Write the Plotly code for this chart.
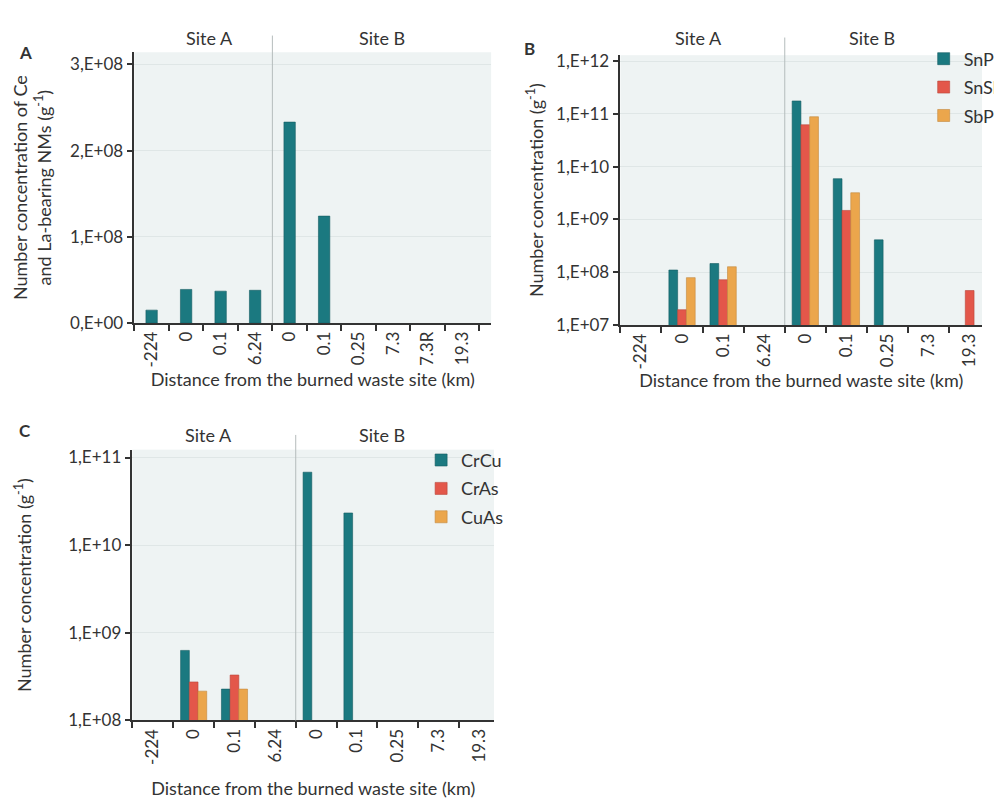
import plotly.graph_objects as go

# ---------------- data ----------------
labels_a = ["-224", "0", "0.1", "6.24", "0", "0.1", "0.25", "7.3", "7.3R", "19.3"]
ce_la = [1.5e7, 3.9e7, 3.7e7, 3.8e7, 2.33e8, 1.24e8, None, None, None, None]

labels_b = ["-224", "0", "0.1", "6.24", "0", "0.1", "0.25", "7.3", "19.3"]
snpb = [None, 1.1e8, 1.46e8, None, 1.75e11, 5.9e9, 4.1e8, None, None]
snsb = [None, 1.95e7, 7.2e7, None, 6.2e10, 1.48e9, None, None, 4.5e7]
sbpb = [None, 7.9e7, 1.27e8, None, 8.8e10, 3.2e9, None, None, None]

labels_c = ["-224", "0", "0.1", "6.24", "0", "0.1", "0.25", "7.3", "19.3"]
crcu = [None, 6.3e8, 2.28e8, None, 6.8e10, 2.33e10, None, None, None]
cras = [None, 2.75e8, 3.3e8, None, None, None, None, None, None]
cuas = [None, 2.16e8, 2.28e8, None, None, None, None, None, None]

ticks_a = [0, 1e8, 2e8, 3e8]
ticktext_a = ["0,E+00", "1,E+08", "2,E+08", "3,E+08"]
ticks_b = [1e7, 1e8, 1e9, 1e10, 1e11, 1e12]
ticktext_b = ["1,E+07", "1,E+08", "1,E+09", "1,E+10", "1,E+11", "1,E+12"]
ticks_c = [1e8, 1e9, 1e10, 1e11]
ticktext_c = ["1,E+08", "1,E+09", "1,E+10", "1,E+11"]

TEAL = "#1b7980"
RED = "#e3574a"
ORANGE = "#eba64c"
BG = "#eef3f3"
GRID = "#dfe6e6"
INK = "#333333"
FONT = "Lato"

W, H = 1002, 799
def fx(p):
    return p / W
def fy(p):
    return 1 - p / H

fig = go.Figure()

xa = list(range(len(labels_a)))
xb = list(range(len(labels_b)))
xc = list(range(len(labels_c)))

fig.add_trace(go.Bar(x=xa, y=ce_la, marker=dict(color=TEAL, line=dict(color="#145c61", width=0.6)),
                     width=0.33, showlegend=False, xaxis="x", yaxis="y"))

for name, vals, col, lc in [("SnPb", snpb, TEAL, "#145c61"), ("SnSb", snsb, RED, "#b8463b"),
                            ("SbPb", sbpb, ORANGE, "#c2883e")]:
    fig.add_trace(go.Bar(x=xb, y=vals, name=name, marker=dict(color=col, line=dict(color=lc, width=0.6)),
                         xaxis="x2", yaxis="y2", legend="legend", legendgroup=name))

for name, vals, col, lc in [("CrCu", crcu, TEAL, "#145c61"), ("CrAs", cras, RED, "#b8463b"),
                            ("CuAs", cuas, ORANGE, "#c2883e")]:
    fig.add_trace(go.Bar(x=xc, y=vals, name=name, marker=dict(color=col, line=dict(color=lc, width=0.6)),
                         xaxis="x3", yaxis="y3", legend="legend2", legendgroup=name))

tickfont = dict(family=FONT, size=17, color=INK)
titlefont = dict(family=FONT, size=18, color=INK)

def xaxis_cfg(dom, rng, labels, anchor, standoff):
    n = len(labels)
    return dict(domain=dom, range=rng, anchor=anchor, tickmode="array",
                tickvals=list(range(n)), ticktext=labels, tickangle=-90, ticks="",
                tickfont=tickfont, showgrid=False, zeroline=False,
                showline=True, linecolor=INK, linewidth=1.5,
                minor=dict(tickmode="array", tickvals=[i - 0.5 for i in range(n + 1)],
                           ticks="outside", ticklen=6, tickwidth=1.5, tickcolor=INK),
                title=dict(text="Distance from the burned waste site (km)", font=titlefont,
                           standoff=standoff))

def yaxis_cfg(dom, rng, tv, tt, anchor, title, standoff, typ="linear"):
    return dict(domain=dom, range=rng, anchor=anchor, type=typ, tickmode="array",
                tickvals=tv, ticktext=tt, ticks="outside", ticklen=6, tickwidth=1.5,
                tickcolor=INK, tickfont=tickfont, showline=True, linecolor=INK, linewidth=1.5,
                showgrid=True, gridcolor=GRID, gridwidth=1, zeroline=False,
                title=dict(text=title, font=titlefont, standoff=standoff))

fig.update_layout(
    width=W, height=H, margin=dict(l=0, r=0, t=0, b=0),
    paper_bgcolor="white", plot_bgcolor=BG, barmode="group", bargap=0.36, bargroupgap=0,
    font=dict(family=FONT, color=INK),
    xaxis=xaxis_cfg([fx(130), fx(497)], [-0.5, 9.84], labels_a, "y", 6),
    yaxis=yaxis_cfg([fy(316), fy(40)], [0, 3.14e8], ticks_a, ticktext_a, "x",
                    "Number concentration of Ce<br>and La-bearing NMs (g<sup>-1</sup>)", 14),
    xaxis2=xaxis_cfg([fx(630), 1.0], [-0.5, 8.3], labels_b, "y2", 6),
    yaxis2=yaxis_cfg([fy(318), fy(43)], [7, 12.11], ticks_b, ticktext_b, "x2",
                     "Number concentration (g<sup>-1</sup>)", 8, "log"),
    xaxis3=xaxis_cfg([fx(128), fx(500)], [-0.5, 8.357], labels_c, "y3", 18),
    yaxis3=yaxis_cfg([fy(721), fy(445)], [8, 11.09], ticks_c, ticktext_c, "x3",
                     "Number concentration (g<sup>-1</sup>)", 32, "log"),
    legend=dict(x=fx(942), y=fy(28), xanchor="left", yanchor="top", bgcolor="rgba(0,0,0,0)",
                font=dict(family=FONT, size=18, color=INK), tracegroupgap=2, itemwidth=30),
    legend2=dict(x=fx(425), y=fy(437), xanchor="left", yanchor="top", bgcolor="rgba(0,0,0,0)",
                 font=dict(family=FONT, size=18, color=INK), tracegroupgap=2, itemwidth=30),
)

# site dividers
for xref, yt, yb in [("x", 23, 316), ("x2", 25, 318), ("x3", 430, 721)]:
    fig.add_shape(type="line", xref=xref, yref="paper", x0=3.5, x1=3.5, y0=fy(yb), y1=fy(yt),
                  line=dict(color="#b5bcbc", width=1))

# site labels
for xp, yp, t in [(207, 25, "Site A"), (385, 25, "Site B"), (710, 25, "Site A"), (889, 25, "Site B"),
                  (206, 430, "Site A"), (385, 430, "Site B")]:
    fig.add_annotation(x=fx(xp), y=fy(yp), xref="paper", yref="paper", text=t, showarrow=False,
                       font=dict(family=FONT, size=18, color=INK), xanchor="center", yanchor="middle")

# panel letters
for xp, yp, t in [(18, 40, "A"), (537, 36, "B"), (18, 425, "C")]:
    fig.add_annotation(x=fx(xp), y=fy(yp), xref="paper", yref="paper", text="<b>" + t + "</b>",
                       showarrow=False, font=dict(family=FONT, size=17, color=INK),
                       xanchor="center", yanchor="middle")

fig.write_html("out.html")
